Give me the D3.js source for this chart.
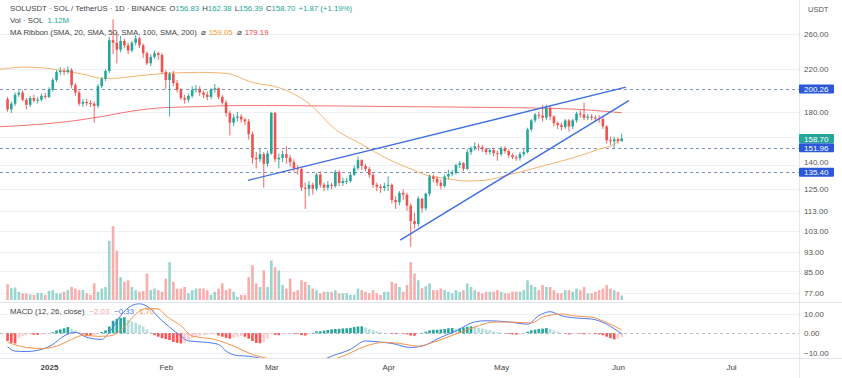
<!DOCTYPE html>
<html><head><meta charset="utf-8">
<script src="https://cdn.jsdelivr.net/npm/d3@7"></script>
<style>html,body{margin:0;padding:0;background:#fff;}svg{display:block;font-family:"Liberation Sans",Arial,sans-serif;}</style>
</head><body><svg id="c" width="842" height="378"></svg>
<script>
// ---------- DATA ----------
const firstDate = "2024-12-21";
const firstOpen = 191;
const closes = [
182,187,195,197,190.5,186,192,189.6,190.5,194,
193,199.6,209,217,218,217,219,204,197,187,
188.5,187.5,187,185,203,210,218,252,249,241,
251,246,240,249,254,246,237,226,233,237,
235,217,209,215,206,199.6,192,190.5,194,199.6,
200.5,197,195,193,199.6,201,193,188,179,171,
175,176,173.6,172,162,145,144,147.5,141,148,
179,144,145,147.5,145,142,138,137.6,126,125.4,
127.7,125.4,134,127.7,126,127.7,127,135.6,128.8,130,
130,133.8,138,143.4,139.5,137.6,133.8,127.7,126.6,125.8,
127,127.7,118.9,117.7,123,121.9,115.8,107.7,106.2,119.7,
114.3,122.5,132.8,131.3,129,127,132.8,134.4,135,140.2,
141.4,137.6,148.9,151.7,153,152.4,151,149,150.3,148.2,
147.5,151.7,149.6,146.8,145.4,144.8,147.5,148.9,165.7,172.8,
177.7,176.8,175,183.5,176,170.6,169,167.6,172.8,168,
172.8,178.5,177.7,175,176,175,174.5,174,168,157.4,
156.6,158.2,156.83,158.70];
const highs = [
193,189,197,199,199,192,194,195,193,196,
197,202,211,219,222,221,223,221,206,199,
191,191,190,189,205,212,220,256,278,262,
257,254,249,251,258,256,248,239,236,240,
239,237,219,217,218,209,201,195,196,203,
204,203,199,198,201,205,202,195,190,181,
178,180,178,175,174,164,149,151,149,150,
180,180,148,150,153,147,144,140,139,129,
130,129,135,136,129,130,129,137,137,132,
132,135,140,146,144,141,139,135,129,128,
129,133,128.5,121,124,125,123,117,112,121,
120,123,134,134,133,131,134,137,137,141,
143,142,151,153,156,155,154,152,152,152,
150,153,153,151,148,147,149,151,167,174,
179,180,186,186,185,177,172,171,174,174,
174,180,181,188,178,178,177,177,176,169,
160,160,159.5,162.38];
const lows = [
180,179,185,193,189,182,184,188,187,189,
191,192,198,207,214,214,215,201,194,185,
184,185,184,171,183,201,208,216,236,226,
238,243,236,238,246,243,232,224,223,231,
230,215,200,176,203,197,190,187,188,192,
197,194,192,190,191,197,191,186,176,161,
168,172,171,169,158,141,138,142,126,139,
147,142,138,142,141,139,136,134,124,114,
121,122,124,126,124,124.5,125,126,127,127,
128,129,133,137,137,136,132,126,124,123,
124,124,117,114,116,119,113,95.5,104,105,
112,113,121,129,127,125,126,131,133,134,
138,136,137,147,150,150,149,147,147,146,
143,146,148,145,144,143,143,146,148,164,
171,174,172,173,173,168,166,165,166,164,
166,171,175,173,173,173,172,171,166,155,
154,151,155,156.39];
const volumes = [
4.0,3.0,3.2,2.1,1.7,1.7,1.4,1.3,1.8,1.8,
1.3,2.3,2.5,1.7,1.7,2.1,2.5,3.3,2.9,2.5,
2.5,1.7,1.3,4.2,2.1,2.9,3.3,15.0,18.7,12.5,
5.8,4.6,5.0,3.3,2.5,2.1,2.3,6.7,2.5,2.9,
2.5,2.1,5.4,9.6,4.6,2.9,2.9,3.3,1.7,2.5,
2.9,2.9,2.9,2.5,1.3,2.1,2.9,4.2,2.5,2.9,
2.1,0.8,1.3,1.3,5.8,8.8,4.2,3.3,7.5,3.3,
10.0,8.3,7.5,3.8,2.9,5.4,2.1,2.5,5.0,4.6,
3.8,2.9,2.5,1.7,2.1,2.1,2.1,2.5,1.7,1.7,
1.7,1.3,1.3,2.9,2.5,2.1,1.7,2.5,1.7,1.3,
2.1,2.1,4.6,4.2,3.3,2.1,3.8,9.6,6.7,5.0,
3.0,3.5,4.2,2.5,2.5,2.9,2.5,2.1,1.7,2.5,
2.1,2.5,4.2,3.3,2.5,2.1,1.7,2.1,2.1,2.1,
2.5,2.1,1.7,1.7,2.1,2.1,2.1,2.5,5.0,3.8,
3.3,2.5,3.8,3.3,3.3,2.5,1.7,1.7,2.5,2.5,
2.1,2.9,2.5,3.3,1.7,1.7,2.1,2.5,2.9,3.8,
2.9,2.5,2.1,1.12];
const macdHist = [
-4.0,-5.0,-5.3,-2.5,-1.5,-1.0,-0.8,-0.8,-0.8,-0.6,
-0.5,-0.3,0.5,1.5,2.0,2.6,3.2,2.4,1.5,0.5,
-0.6,-1.0,-1.2,-1.0,-0.3,0.6,1.5,3.5,6.5,7.5,
8.0,8.3,7.0,6.2,5.5,4.5,3.5,2.0,0.5,-1.0,
-1.8,-2.6,-3.0,-3.5,-4.5,-5.0,-5.3,-5.0,-3.5,-2.5,
-1.8,-1.2,-1.0,-0.8,-0.6,-0.5,-1.2,-1.8,-2.4,-2.8,
-2.5,-2.0,-1.5,-1.8,-2.8,-4.0,-5.0,-5.2,-4.5,-3.0,
-0.5,-0.8,-1.0,-0.5,-0.3,-0.2,-0.3,-0.3,-1.0,-1.2,
-0.5,0.2,1.0,1.0,1.4,1.7,2.0,2.2,2.3,2.5,
2.6,2.8,3.2,3.5,3.6,3.0,2.2,1.6,1.0,0.6,
0.3,0.1,-0.3,-0.4,-0.2,-0.2,-0.6,-1.2,-1.3,-0.6,
0.2,0.8,1.5,1.8,1.8,2.0,2.2,2.6,2.7,2.4,
2.5,3.0,3.4,3.6,3.4,2.9,2.4,1.9,1.5,1.0,
0.6,0.3,0.1,-0.4,-0.6,-0.7,-0.6,-0.3,0.8,1.5,
1.9,2.2,2.4,2.7,2.2,1.4,0.8,0.3,-0.2,-0.6,
-0.4,-0.3,-0.3,-0.5,-0.4,-0.3,-0.4,-0.6,-1.0,-1.8,
-2.6,-3.2,-3.0,-2.03];
// [day index from firstDate, value]
const macdLine = [[0,-7.0],[2,-9.3],[5,-9.5],[9,-8.4],[12,-5.8],[15,-1.4],[18,0.5],[21,-2.1],[25,-3.2],[27,0.5],[30,9.1],[33,14.4],[35,15.3],[38,12.6],[40,8.4],[43,3.2],[46,-1.4],[48,-4.0],[52,-4.6],[56,-5.8],[58,-9.3],[61,-11.6],[64,-11.9],[67,-13],[71,-15.5],[75,-17],[79,-17.5],[83,-14.5],[86,-11.9],[91,-8.4],[95,-4.0],[99,-4.6],[102,-5.3],[107,-7.4],[110,-6.7],[115,-2.1],[119,1.2],[124,5.9],[127,6.5],[133,5.9],[138,4.7],[141,9.1],[144,11.2],[147,9.1],[151,7.9],[155,7.4],[159,4.7],[161,2.4],[163,-0.33]];
const signalLine = [[0,-4.7],[5,-7.4],[9,-7.9],[13,-6.7],[17,-3.2],[20,-1.1],[24,-1.6],[27,-1.4],[31,3.2],[34,10],[37,13],[40,12.6],[42,9.1],[46,3.9],[49,-1.4],[55,-3.2],[60,-6.7],[65,-11],[70,-13.5],[75,-15.5],[80,-16],[85,-14.5],[89,-11.9],[95,-6.7],[100,-4.7],[104,-5.3],[109,-6.7],[113,-4.7],[118,-1.1],[124,3.2],[129,5.8],[134,5.8],[139,5.3],[142,8.4],[147,10],[151,8.9],[155,8.4],[158,6.3],[161,3.8],[163,1.7]];
const smaOrange = [[-2,219.8],[5,222],[10,221],[16,217.5],[21,214],[25,210.6],[28,210.6],[33,212.4],[42,215.6],[51,216.6],[58,215.6],[65,206.6],[72,201.6],[80,187],[87,165.7],[94,154.5],[101,144.1],[107,137.6],[111,133.8],[117,131.3],[122,130],[127,130.6],[133,133.8],[138,136.9],[147,142.8],[152,146.5],[157,151],[161,154.5],[163,159.05]];
const smaRed = [[-2,167.8],[16,171.9],[25,176],[33,180.6],[42,183.6],[51,184.4],[60,185.3],[72,185.3],[104,184.4],[131,183.6],[147,182.7],[163,179.19]];
const trendUpper = [[63.8,130.4],[164.1,202.1]];
const trendLower = [[104.2,98.5],[164.9,189.6]];
const levels = [200.26,151.96,135.40];
const lastPrice = 158.70;
const priceTicks = [77,85,93,103,113,125,140,160,180,220,260];
const macdTicks = [-10,0,10];
const monthDates = ["2025-01-01","2025-02-01","2025-03-01","2025-04-01","2025-05-01","2025-06-01","2025-07-01"];
const monthLabels = ["2025","Feb","Mar","Apr","May","Jun","Jul"];

// ---------- CHART ----------
const svg = d3.select("#c");
const plotR = 799;
const DAY = 864e5;
const t0 = Date.parse(firstDate + "T00:00:00Z");
const dOf = j => new Date(t0 + j*DAY);
const x = d3.scaleUtc().domain([new Date("2025-01-01T00:00:00Z"), new Date("2025-07-01T00:00:00Z")]).range([49,731]);
const y = d3.scaleLog().domain([77,260]).range([292.5,33.5]);
const yVol = d3.scaleLinear().domain([0,19]).range([300,225]);
const yM = d3.scaleLinear().domain([-10,10]).range([352.5,314]);
const f2 = d3.format(".2f");
const FONT = "Liberation Sans, Arial, sans-serif";

const defs = svg.append("defs");
defs.append("clipPath").attr("id","cMain").append("rect").attr("x",0).attr("y",0).attr("width",plotR).attr("height",301);
defs.append("clipPath").attr("id","cMacd").append("rect").attr("x",0).attr("y",303).attr("width",plotR).attr("height",55);

// grid
const grid = svg.append("g");
grid.selectAll("line.gp").data(priceTicks).join("line")
  .attr("x1",0).attr("x2",plotR).attr("y1",d=>Math.round(y(d))+0.5).attr("y2",d=>Math.round(y(d))+0.5)
  .attr("stroke","#eef0f5");
grid.selectAll("line.gm").data(macdTicks.filter(d=>d!==0)).join("line")
  .attr("x1",0).attr("x2",plotR).attr("y1",d=>Math.round(yM(d))+0.5).attr("y2",d=>Math.round(yM(d))+0.5)
  .attr("stroke","#eef0f5");
svg.append("line").attr("x1",0).attr("x2",842).attr("y1",302.5).attr("y2",302.5).attr("stroke","#e3e6ec");
svg.append("line").attr("x1",0).attr("x2",842).attr("y1",358.5).attr("y2",358.5).attr("stroke","#e3e6ec");
svg.append("line").attr("x1",plotR+0.5).attr("x2",plotR+0.5).attr("y1",0).attr("y2",378).attr("stroke","#e3e6ec");

const main = svg.append("g").attr("clip-path","url(#cMain)");
const idx = d3.range(closes.length);
const openOf = j => j===0 ? firstOpen : closes[j-1];
const up = j => closes[j] >= openOf(j);
const bw = 2.6;

// volume
main.append("g").selectAll("rect").data(idx).join("rect")
  .attr("x",j=>x(dOf(j))-bw/2).attr("width",bw)
  .attr("y",j=>yVol(volumes[j])).attr("height",j=>yVol(0)-yVol(volumes[j]))
  .attr("fill",j=>up(j)?"#9ad6d0":"#f8aeac");

// horizontal levels
main.append("g").selectAll("line").data(levels).join("line")
  .attr("x1",0).attr("x2",plotR).attr("y1",d=>Math.round(y(d))+0.5).attr("y2",d=>Math.round(y(d))+0.5)
  .attr("stroke","#7f90c2").attr("stroke-dasharray","3,3");

// MA lines
const maLine = d3.line().x(d=>x(dOf(d[0]))).y(d=>y(d[1])).curve(d3.curveMonotoneX);
main.append("path").attr("d",maLine(smaRed)).attr("fill","none").attr("stroke","#f27474").attr("stroke-width",1);
main.append("path").attr("d",maLine(smaOrange)).attr("fill","none").attr("stroke","#f7b46e").attr("stroke-width",1);

// candles
const cg = main.append("g");
cg.selectAll("line").data(idx).join("line")
  .attr("x1",j=>x(dOf(j))).attr("x2",j=>x(dOf(j)))
  .attr("y1",j=>y(highs[j])).attr("y2",j=>y(lows[j]))
  .attr("stroke",j=>up(j)?"#26a69a":"#ef5350").attr("stroke-width",0.9);
cg.selectAll("rect").data(idx).join("rect")
  .attr("x",j=>x(dOf(j))-bw/2).attr("width",bw)
  .attr("y",j=>Math.min(y(openOf(j)),y(closes[j])))
  .attr("height",j=>Math.max(1,Math.abs(y(openOf(j))-y(closes[j]))))
  .attr("fill",j=>up(j)?"#26a69a":"#ef5350");

// trend lines
const tl = d3.line().x(d=>x(dOf(d[0]))).y(d=>y(d[1]));
[trendUpper,trendLower].forEach(t=>{
  main.append("path").attr("d",tl(t)).attr("fill","none").attr("stroke","#3f6fe0").attr("stroke-width",1.4);
});

// MACD pane
const mg = svg.append("g").attr("clip-path","url(#cMacd)");
mg.append("line").attr("x1",0).attr("x2",plotR).attr("y1",Math.round(yM(0))+0.5).attr("y2",Math.round(yM(0))+0.5)
  .attr("stroke","#b8bcc6").attr("stroke-dasharray","3,3");
const histColor = j => {
  const v = macdHist[j], p = j>0 ? macdHist[j-1] : v;
  if (v >= 0) return v >= p ? "#26a69a" : "#b2dfdb";
  return v <= p ? "#ff5252" : "#ffcdd2";
};
mg.append("g").selectAll("rect").data(idx).join("rect")
  .attr("x",j=>x(dOf(j))-bw/2).attr("width",bw)
  .attr("y",j=>Math.min(yM(0),yM(macdHist[j])))
  .attr("height",j=>Math.abs(yM(macdHist[j])-yM(0)))
  .attr("fill",histColor);
const ml = d3.line().x(d=>x(dOf(d[0]))).y(d=>yM(d[1])).curve(d3.curveMonotoneX);
mg.append("path").attr("d",ml(macdLine)).attr("fill","none").attr("stroke","#4f79f0").attr("stroke-width",1);
mg.append("path").attr("d",ml(signalLine)).attr("fill","none").attr("stroke","#f7924a").attr("stroke-width",1);

// price label boxes (axis)
const boxes = levels.map(v=>({v,c:"#2b58d8"})).concat([{v:lastPrice,c:"#26a69a"}]);
const boxY = boxes.map(b=>y(b.v));

// price axis (tick labels give way to the boxes the way the platform does)
const pa = svg.append("g").attr("transform",`translate(${plotR},0)`)
  .call(d3.axisRight(y).tickValues(priceTicks).tickFormat(f2).tickSize(0).tickPadding(5));
pa.select(".domain").remove();
pa.selectAll("text").attr("font-size",8).attr("fill","#555").attr("font-family",FONT)
  .each(function(d){
    const ty = y(d);
    const near = boxY.reduce((m,by)=>Math.abs(by-ty)<Math.abs(m-ty)?by:m, -1e9);
    const dist = Math.abs(near-ty);
    if (dist < 5) d3.select(this).attr("display","none");
    else if (dist < 10.5) d3.select(this).attr("y", (ty<near?-1:1)*(10.5-dist));
  });
const maa = svg.append("g").attr("transform",`translate(${plotR},0)`)
  .call(d3.axisRight(yM).tickValues(macdTicks).tickFormat(f2).tickSize(0).tickPadding(5));
maa.select(".domain").remove();
maa.selectAll("text").attr("font-size",8).attr("fill","#555").attr("font-family",FONT);
svg.append("text").attr("x",808).attr("y",12).attr("font-size",7.5).attr("fill","#555").text("USDT");

const bg = svg.append("g");
boxes.forEach((b,i)=>{
  const yy = boxY[i];
  bg.append("rect").attr("x",plotR).attr("y",yy-4.5).attr("width",35).attr("height",9).attr("rx",1).attr("fill",b.c);
  bg.append("text").attr("x",plotR+5).attr("y",yy+3).attr("font-size",8).attr("fill","#fff").text(f2(b.v));
});

// time axis
const xa = svg.append("g").attr("transform","translate(0,358)")
  .call(d3.axisBottom(x).tickValues(monthDates.map(d=>new Date(d+"T00:00:00Z"))).tickFormat((d,i)=>monthLabels[i]).tickSize(0).tickPadding(6));
xa.select(".domain").remove();
xa.selectAll("text").attr("font-size",8).attr("fill","#444").attr("font-family",FONT)
  .attr("font-weight",(d,i)=>i===0?"bold":"normal");

// legends
const fs = 7.8;
const t1 = svg.append("text").attr("x",10).attr("y",11).attr("font-size",fs).attr("fill","#444");
t1.append("tspan").text("SOLUSDT · SOL / TetherUS · 1D · BINANCE");
[["O","156.83"],["H","162.38"],["L","156.39"],["C","158.70"]].forEach(p=>{
  t1.append("tspan").attr("dx",3).text(p[0]);
  t1.append("tspan").attr("fill","#26a69a").text(p[1]);
});
t1.append("tspan").attr("dx",3).attr("fill","#26a69a").text("+1.87 (+1.19%)");
const t2 = svg.append("text").attr("x",10).attr("y",23).attr("font-size",fs).attr("fill","#444");
t2.append("tspan").text("Vol · SOL");
t2.append("tspan").attr("dx",4).attr("fill","#26a69a").text("1.12M");
const t3 = svg.append("text").attr("x",10).attr("y",35).attr("font-size",fs).attr("fill","#444");
t3.append("tspan").text("MA Ribbon (SMA, 20, SMA, 50, SMA, 100, SMA, 200)");
t3.append("tspan").attr("dx",4).text("⌀");
t3.append("tspan").attr("dx",3).attr("fill","#f59a2e").text("159.05");
t3.append("tspan").attr("dx",4).text("⌀");
t3.append("tspan").attr("dx",3).attr("fill","#ef4444").text("179.19");
const t4 = svg.append("text").attr("x",10).attr("y",314).attr("font-size",fs).attr("fill","#444");
t4.append("tspan").text("MACD (12, 26, close)");
t4.append("tspan").attr("dx",5).attr("fill","#f7a3a3").text("−2.03");
t4.append("tspan").attr("dx",5).attr("fill","#4f79f0").text("−0.33");
t4.append("tspan").attr("dx",5).attr("fill","#f7924a").text("1.70");
</script></body></html>
